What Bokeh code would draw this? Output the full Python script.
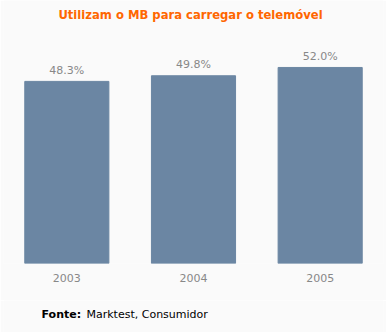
from bokeh.plotting import figure
from bokeh.models import FactorRange, Range1d, Label, ColumnDataSource
from bokeh.layouts import column
from bokeh.core.properties import value
from bokeh.embed import file_html
from bokeh.resources import INLINE

years = ["2003", "2004", "2005"]
values = [48.3, 49.8, 52.0]
labels = ["48.3%", "49.8%", "52.0%"]

title_text = "Utilizam o MB para carregar o telemóvel"
source_bold = "Fonte:"
source_text = "Marktest, Consumidor"

FONT = "DejaVu Sans"
BG = "#fafafa"

src = ColumnDataSource(dict(x=years, top=values, label=labels))

p = figure(width=386, height=300,
           x_range=FactorRange(*years, range_padding=0),
           y_range=Range1d(0, 69.76),
           output_backend="svg", toolbar_location=None,
           min_border_left=3, min_border_right=3,
           min_border_top=0, min_border_bottom=37,
           background_fill_color=BG, border_fill_color=BG,
           outline_line_color=None)

p.vbar(x="x", top="top", width=0.664, source=src, color="#6b86a3")
p.text(x="x", y="top", text="label", source=src, text_align="center",
       text_baseline="alphabetic", y_offset=-11,
       text_font=value(FONT), text_font_size="11px", text_color="#888888")

p.yaxis.visible = False
p.xgrid.visible = False
p.ygrid.visible = False
p.xaxis.axis_line_color = None
p.xaxis.major_tick_line_color = None
p.xaxis.minor_tick_line_color = None
p.xaxis.major_label_text_font = FONT
p.xaxis.major_label_text_font_size = "11px"
p.xaxis.major_label_text_color = "#888888"
p.xaxis.major_label_standoff = 4

# title inside the frame (frame spans canvas top to bar baseline)
p.add_layout(Label(x=187, y=249, x_units="screen", y_units="screen",
                   text=title_text, text_font=FONT, text_font_size="11.6px",
                   text_font_style="bold", text_color="#ff6600",
                   text_align="center", text_baseline="middle"))

# footnote strip
f = figure(width=386, height=32, x_range=Range1d(0, 1), y_range=Range1d(0, 1),
           output_backend="svg", toolbar_location=None,
           min_border_left=0, min_border_right=0,
           min_border_top=0, min_border_bottom=0,
           background_fill_color=BG, border_fill_color=BG,
           outline_line_color=None)
f.axis.visible = False
f.grid.visible = False
f.add_layout(Label(x=38, y=18, x_units="screen", y_units="screen",
                   text=source_bold, text_font=FONT, text_font_size="11px",
                   text_font_style="bold", text_color="#000000",
                   text_baseline="alphabetic"))
f.add_layout(Label(x=83, y=18, x_units="screen", y_units="screen",
                   text=source_text, text_font=FONT, text_font_size="11px",
                   text_color="#000000", text_baseline="alphabetic"))

layout = column(p, f, spacing=0)
open("out.html", "w").write(file_html(layout, INLINE))
